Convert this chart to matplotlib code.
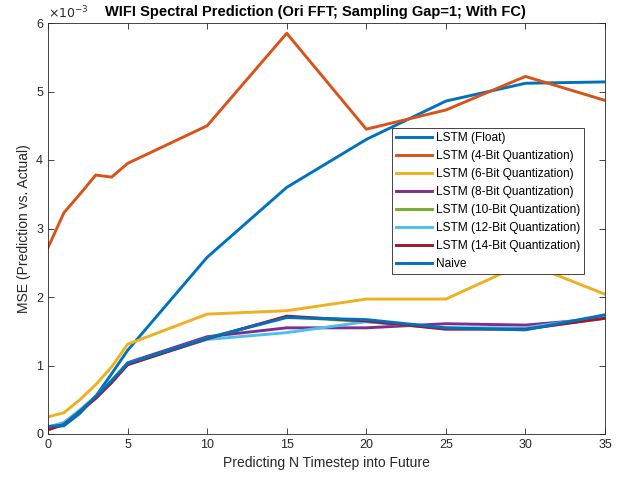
import matplotlib
matplotlib.use("Agg")
import matplotlib.pyplot as plt

plt.rcParams['font.family'] = ['Liberation Sans', 'DejaVu Sans']

steps = [0, 1, 2, 3, 4, 5, 10, 15, 20, 25, 30, 35]
lstm_float = [0.10, 0.12, 0.30, 0.55, 0.88, 1.22, 2.58, 3.60, 4.30, 4.86, 5.12, 5.14]
lstm_4bit = [2.72, 3.23, 3.50, 3.78, 3.75, 3.95, 4.50, 5.85, 4.45, 4.73, 5.22, 4.87]
lstm_6bit = [0.25, 0.31, 0.50, 0.72, 0.98, 1.31, 1.75, 1.80, 1.97, 1.97, 2.50, 2.04]
lstm_8bit = [0.10, 0.15, 0.33, 0.54, 0.77, 1.04, 1.42, 1.55, 1.55, 1.61, 1.59, 1.69]
lstm_10bit = [0.08, 0.15, 0.33, 0.53, 0.76, 1.02, 1.40, 1.71, 1.64, 1.54, 1.54, 1.69]
lstm_12bit = [0.10, 0.17, 0.35, 0.55, 0.78, 1.03, 1.38, 1.48, 1.64, 1.55, 1.55, 1.72]
lstm_14bit = [0.06, 0.14, 0.33, 0.52, 0.75, 1.01, 1.39, 1.72, 1.65, 1.53, 1.53, 1.69]
naive = [0.11, 0.13, 0.33, 0.55, 0.78, 1.03, 1.40, 1.70, 1.67, 1.55, 1.52, 1.74]

labels = ['LSTM (Float)', 'LSTM (4-Bit Quantization)', 'LSTM (6-Bit Quantization)',
          'LSTM (8-Bit Quantization)', 'LSTM (10-Bit Quantization)',
          'LSTM (12-Bit Quantization)', 'LSTM (14-Bit Quantization)', 'Naive']
series = [lstm_float, lstm_4bit, lstm_6bit, lstm_8bit, lstm_10bit, lstm_12bit, lstm_14bit, naive]
colors = ['#0072BD', '#D95319', '#EDB120', '#7E2F8E', '#77AC30', '#4DBEEE', '#A2142F', '#0072BD']

scale = 1e-3

fig = plt.figure(figsize=(6.33, 4.79), dpi=100)
ax = fig.add_axes([48/633, 45/479, 557/633, 411/479])

for vals, lab, c in zip(series, labels, colors):
    ax.plot(steps, [v * scale for v in vals], color=c, lw=2.1, label=lab)

ax.set_xlim(0, 35)
ax.set_ylim(0, 6e-3)
ax.set_xticks(range(0, 36, 5))
yt = [i * 1e-3 for i in range(7)]
ax.set_yticks(yt)
ax.set_yticklabels([str(i) for i in range(7)])

axc = '#262626'
for s in ax.spines.values():
    s.set_color(axc)
    s.set_linewidth(0.6)
ax.tick_params(direction='in', top=True, right=True, length=4, width=0.6,
               colors=axc, labelsize=9)
for lab in ax.get_xticklabels() + ax.get_yticklabels():
    lab.set_color(axc)

ax.text(0.0, 1.005, r'$\times10^{-3}$', transform=ax.transAxes, fontsize=9,
        color=axc, ha='left', va='bottom', family='DejaVu Sans')

ax.set_title('WIFI Spectral Prediction (Ori FFT; Sampling Gap=1; With FC)',
             fontsize=10.5, fontweight='bold', color='black', pad=5, x=0.48)
ax.set_xlabel('Predicting N Timestep into Future', fontsize=10, color=axc)
ax.set_ylabel('MSE (Prediction vs. Actual)', fontsize=10, color=axc)

leg = ax.legend(loc='upper left', bbox_to_anchor=(344/557, (434-128)/411),
                fontsize=8.6, frameon=True, fancybox=False, handlelength=3.0,
                borderpad=0.35, labelspacing=0.5, handletextpad=0.3,
                borderaxespad=0)
leg.get_frame().set_edgecolor(axc)
leg.get_frame().set_linewidth(0.6)
leg.get_frame().set_alpha(1)

fig.savefig('out.png', dpi=100)
